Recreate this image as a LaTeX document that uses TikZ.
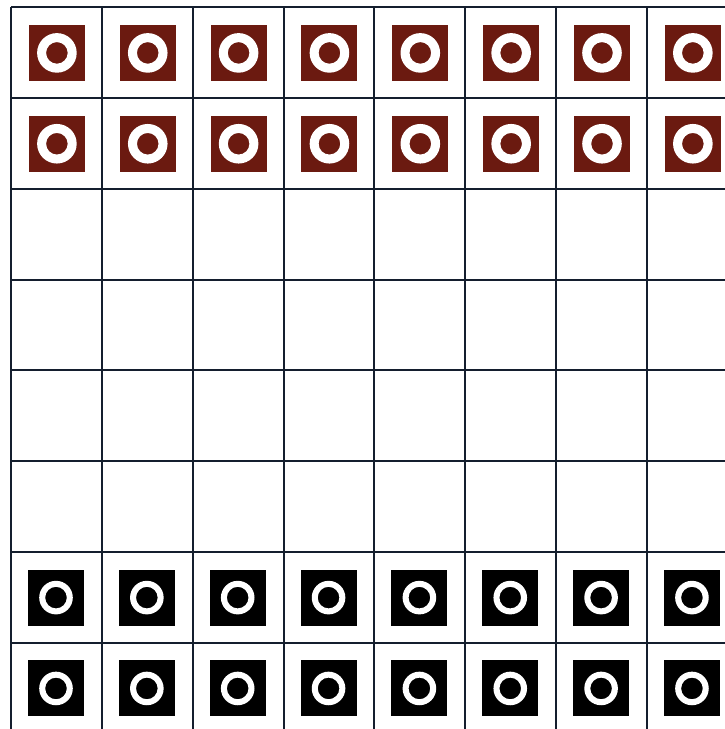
\documentclass[tikz,border=0pt]{standalone}
\definecolor{piecered}{RGB}{107,26,16}
\definecolor{gridline}{RGB}{20,30,46}
\begin{document}
\begin{tikzpicture}[x=1pt,y=-1pt,
  gridstyle/.style={gridline, line width=2pt},
  redpiece/.style={rectangle, fill=piecered, minimum size=56pt, inner sep=0pt,
    path picture={\fill[white,even odd rule] (path picture bounding box.center) circle (19.8pt) circle (10.8pt);}},
  blackpiece/.style={rectangle, fill=black, minimum size=56pt, inner sep=0pt,
    path picture={\fill[white,even odd rule] (path picture bounding box.center) circle (16.8pt) circle (10.8pt);}}]
\useasboundingbox (0,0) rectangle (725,729);
\fill[white] (0,0) rectangle (725,729);
\clip (0,0) rectangle (725,729);
\foreach \i in {0,...,8} {
  \draw[gridstyle] ({11+90.85*\i},7) -- ({11+90.85*\i},745);
  \draw[gridstyle] (11,{7+90.85*\i}) -- (745,{7+90.85*\i});
}
\foreach \c in {0,...,7} {
  \foreach \r in {0,1} {
    \node[redpiece] (red-\r-\c) at ({11+90.85*\c+45.9},{7+90.85*\r+45.9}) {};
  }
  \foreach \r in {6,7} {
    \node[blackpiece] (black-\r-\c) at ({11+90.85*\c+45},{7+90.85*\r+45.5}) {};
  }
}
\end{tikzpicture}
\end{document}
